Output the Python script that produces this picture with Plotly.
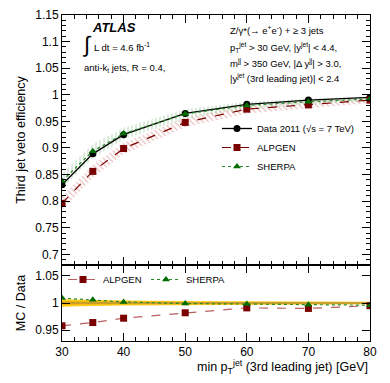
"""Third jet veto efficiency vs min pT of the 3rd leading jet, with MC/Data ratio."""
import plotly.graph_objects as go

# ---- values ----
pt_cut = [30, 35, 40, 50, 60, 70, 80]

data_eff = [0.831, 0.889, 0.925, 0.965, 0.982, 0.990, 0.995]
data_err = [0.004, 0.004, 0.003, 0.003, 0.002, 0.002, 0.002]

alpgen_eff = [0.796, 0.856, 0.899, 0.948, 0.973, 0.981, 0.990]
alpgen_unc = [0.013, 0.012, 0.011, 0.009, 0.008, 0.007, 0.006]

sherpa_eff = [0.838, 0.894, 0.927, 0.964, 0.980, 0.987, 0.992]
sherpa_unc = [0.014, 0.013, 0.011, 0.009, 0.007, 0.006, 0.005]

alpgen_ratio = [0.958, 0.964, 0.972, 0.982, 0.991, 0.990, 0.995]
sherpa_ratio = [1.009, 1.006, 1.002, 0.999, 0.998, 0.997, 0.996]

data_ratio_tot = [0.0070, 0.0055, 0.0045, 0.0035, 0.0030, 0.0028, 0.0025]
data_ratio_stat = [0.0035, 0.0028, 0.0022, 0.0018, 0.0015, 0.0014, 0.0012]

FONT = "Liberation Sans, Arial, sans-serif"
RED = "#7a0000"
GREEN = "#006e00"

# plot-area pixel frame: x 62..370, y 15..341
L, R, T, B = 62, 20, 15, 42
W, H = 390, 383
PW, PH = W - L - R, H - T - B


def px_x(px):
    return (px - L) / PW


def px_y(py):
    return (H - B - py) / PH


def band(x, centre, half):
    hi = [c + h for c, h in zip(centre, half)]
    lo = [c - h for c, h in zip(centre, half)]
    return x + x[::-1], hi + lo[::-1]


fig = go.Figure()

# hatched MC uncertainty bands (top panel)
bx, by = band(pt_cut, alpgen_eff, alpgen_unc)
fig.add_trace(go.Scatter(
    x=bx, y=by, fill="toself", mode="lines", line=dict(width=0),
    fillcolor="rgba(0,0,0,0)",
    fillpattern=dict(shape="\\", fgcolor="#d88080", bgcolor="rgba(0,0,0,0)",
                     size=4, solidity=0.3),
    showlegend=False, hoverinfo="skip", xaxis="x", yaxis="y",
))
bx, by = band(pt_cut, sherpa_eff, sherpa_unc)
fig.add_trace(go.Scatter(
    x=bx, y=by, fill="toself", mode="lines", line=dict(width=0),
    fillcolor="rgba(0,0,0,0)",
    fillpattern=dict(shape="|", fgcolor="#80c080", bgcolor="rgba(0,0,0,0)",
                     size=4, solidity=0.3),
    showlegend=False, hoverinfo="skip", xaxis="x", yaxis="y",
))

# top panel curves
fig.add_trace(go.Scatter(
    x=pt_cut, y=data_eff, name="Data 2011 (\u221As = 7 TeV)",
    mode="lines+markers", line=dict(color="black", width=1.3),
    marker=dict(symbol="circle", size=7, color="black"),
    error_y=dict(type="data", array=data_err, color="black", thickness=1, width=0),
    legend="legend", xaxis="x", yaxis="y",
))
fig.add_trace(go.Scatter(
    x=pt_cut, y=alpgen_eff, name="ALPGEN",
    mode="lines+markers", line=dict(color=RED, width=1.2, dash="dash"),
    marker=dict(symbol="square", size=7, color=RED),
    legend="legend", xaxis="x", yaxis="y",
))
fig.add_trace(go.Scatter(
    x=pt_cut, y=sherpa_eff, name="SHERPA",
    mode="lines+markers", line=dict(color="#2a8a2a", width=1.2, dash="dot"),
    marker=dict(symbol="triangle-up", size=7, color=GREEN),
    legend="legend", xaxis="x", yaxis="y",
))

# ratio panel: data uncertainty band
bx, by = band(pt_cut, [1.0] * len(pt_cut), data_ratio_tot)
fig.add_trace(go.Scatter(
    x=bx, y=by, fill="toself", mode="lines", line=dict(width=0),
    fillcolor="#ffcc22", showlegend=False, hoverinfo="skip",
    xaxis="x2", yaxis="y2",
))
bx, by = band(pt_cut, [1.0] * len(pt_cut), data_ratio_stat)
fig.add_trace(go.Scatter(
    x=bx, y=by, fill="toself", mode="lines", line=dict(width=0),
    fillcolor="#f0b400", showlegend=False, hoverinfo="skip",
    xaxis="x2", yaxis="y2",
))
fig.add_trace(go.Scatter(
    x=pt_cut, y=[1.0] * len(pt_cut), mode="lines",
    line=dict(color="#a08a50", width=1), showlegend=False, hoverinfo="skip",
    xaxis="x2", yaxis="y2",
))

fig.add_trace(go.Scatter(
    x=pt_cut, y=alpgen_ratio, name="ALPGEN",
    mode="lines+markers", line=dict(color="#b86060", width=1.2, dash="dash"),
    marker=dict(symbol="square", size=7, color=RED),
    legend="legend2", xaxis="x2", yaxis="y2",
))
fig.add_trace(go.Scatter(
    x=pt_cut, y=sherpa_ratio, name="SHERPA",
    mode="lines+markers", line=dict(color="#2a8a2a", width=1.2, dash="dot"),
    marker=dict(symbol="triangle-up", size=7, color=GREEN),
    legend="legend2", xaxis="x2", yaxis="y2",
))

ratio_top = (341 - 265) / PH

axis_common = dict(
    showline=True, linecolor="black", linewidth=1, mirror="allticks",
    ticks="inside", tickcolor="black", showgrid=False, zeroline=False,
    automargin=False,
    tickfont=dict(family=FONT, size=12, color="black"),
)

fig.update_layout(
    width=W, height=H,
    margin=dict(l=L, r=R, t=T, b=B, autoexpand=False),
    paper_bgcolor="white", plot_bgcolor="white",
    font=dict(family=FONT, size=11, color="black"),
    xaxis=dict(
        **axis_common, domain=[0, 1], anchor="y", range=[30, 80],
        dtick=10, tick0=30, ticklen=8, showticklabels=False, matches="x2",
        minor=dict(ticks="inside", dtick=2, ticklen=4, tickcolor="black"),
    ),
    yaxis=dict(
        **axis_common, domain=[ratio_top, 1], anchor="x", range=[0.68, 1.15],
        ticklen=8,
        tickvals=[0.7, 0.75, 0.8, 0.85, 0.9, 0.95, 1.0, 1.05, 1.1, 1.15],
        ticktext=["0.7", "0.75", "0.8", "0.85", "0.9", "0.95", "1", "1.05", "1.1", "1.15"],
        minor=dict(ticks="inside", dtick=0.01, tick0=0.7, ticklen=4, tickcolor="black"),
        title=dict(text="Third jet veto efficiency", font=dict(size=12.5), standoff=6),
    ),
    xaxis2=dict(
        **axis_common, domain=[0, 1], anchor="y2", range=[30, 80],
        dtick=10, tick0=30, ticklen=8,
        minor=dict(ticks="inside", dtick=2, ticklen=4, tickcolor="black"),
    ),
    yaxis2=dict(
        **axis_common, domain=[0, ratio_top], anchor="x2", range=[0.93, 1.07],
        tickvals=[0.95, 1.0, 1.05], ticktext=["0.95", "1", "1.05"], ticklen=8,
        title=dict(text="MC / Data", font=dict(size=12.5), standoff=6),
    ),
    legend=dict(
        x=px_x(217), y=px_y(114), xanchor="left", yanchor="top",
        bgcolor="rgba(0,0,0,0)", font=dict(size=9.5), tracegroupgap=0,
        itemwidth=30,
    ),
    legend2=dict(
        x=px_x(63), y=px_y(265), xanchor="left", yanchor="top",
        orientation="h", bgcolor="rgba(0,0,0,0)", font=dict(size=9.5),
        itemwidth=30, entrywidth=38, entrywidthmode="pixels",
    ),
)

annotations = [
    dict(x=px_x(90), y=px_y(28), text="<b><i>ATLAS</i></b>", font=dict(size=13)),
    dict(x=px_x(80), y=px_y(44), text="\u222B", font=dict(size=22)),
    dict(x=px_x(92), y=px_y(47), text="L dt = 4.6 fb<sup>-1</sup>", font=dict(size=9.5)),
    dict(x=px_x(82), y=px_y(68), text="anti-k<sub>t</sub> jets, R = 0.4,", font=dict(size=9.5)),
    dict(x=px_x(228), y=px_y(30),
         text="Z/\u03B3*(\u2192 e<sup>+</sup>e<sup>-</sup>) + \u2265 3 jets", font=dict(size=9.5)),
    dict(x=px_x(228), y=px_y(47),
         text="p<sub>T</sub><sup>jet</sup> > 30 GeV, |y<sup>jet</sup>| < 4.4,", font=dict(size=9.5)),
    dict(x=px_x(228), y=px_y(63),
         text="m<sup>jj</sup> > 350 GeV, |\u0394 y<sup>jj</sup>| > 3.0,", font=dict(size=9.5)),
    dict(x=px_x(228), y=px_y(78),
         text="|y<sup>jet</sup> (3rd leading jet)| < 2.4", font=dict(size=9.5)),
]
for a in annotations:
    fig.add_annotation(xref="paper", yref="paper", xanchor="left", yanchor="middle",
                       showarrow=False, **a)

fig.add_annotation(
    xref="paper", yref="paper", x=1.0, y=px_y(367), xanchor="right", yanchor="middle",
    showarrow=False, font=dict(size=12.5),
    text="min p<sub>T</sub><sup>jet</sup> (3rd leading jet) [GeV]",
)

# drop the browser's default body margin so the figure sits at the page origin
fig.write_html(
    "out.html",
    config={"displayModeBar": False},
    post_script="document.body.style.margin='0px';",
)
